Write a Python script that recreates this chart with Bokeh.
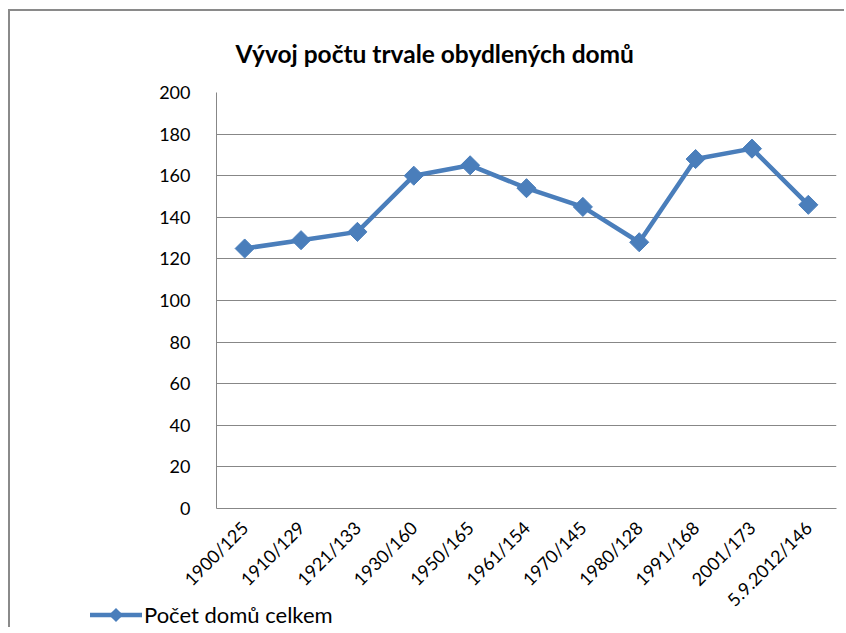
from bokeh.plotting import figure
from bokeh.models import Title, FixedTicker, Div
from bokeh.layouts import column
from bokeh.embed import file_html
from bokeh.resources import INLINE
import math

categories = ["1900/125", "1910/129", "1921/133", "1930/160", "1950/165", "1961/154",
              "1970/145", "1980/128", "1991/168", "2001/173", "5.9.2012/146"]
values = [125, 129, 133, 160, 165, 154, 145, 128, 168, 173, 146]
y_ticks = [0, 20, 40, 60, 80, 100, 120, 140, 160, 180, 200]
series_name = "Počet domů celkem"

FONT = "Lato"
BLUE = "#4A7EBB"
GRAY = "#878787"

p = figure(x_range=categories, y_range=(0, 200), width=834, height=614,
           output_backend="svg", toolbar_location=None,
           min_border_left=206, min_border_right=8, min_border_top=81, min_border_bottom=117)

p.outline_line_color = None
p.background_fill_color = "white"
p.border_fill_color = "white"

line = p.line(categories, values, line_color=BLUE, line_width=4.5)
pts = p.scatter(categories, values, marker="square", angle=math.pi / 4, size=13.5,
                fill_color=BLUE, line_color=BLUE)

p.xgrid.grid_line_color = None
p.ygrid.grid_line_color = GRAY
p.ygrid.grid_line_width = 1

p.yaxis.ticker = FixedTicker(ticks=y_ticks)
for ax in (p.xaxis, p.yaxis):
    ax.axis_line_color = GRAY
    ax.axis_line_width = 1
    ax.major_tick_line_color = None
    ax.minor_tick_line_color = None
    ax.major_label_text_font = FONT
    ax.major_label_text_font_size = "18px"
    ax.major_label_text_color = "black"
p.yaxis.major_label_standoff = 20
p.xaxis.major_label_standoff = 10
p.xaxis.major_label_orientation = math.pi / 4

title = Title(text="Vývoj počtu trvale obydlených domů", align="left", offset=19,
              text_font=FONT, text_font_size="24.5px", text_font_style="bold",
              text_color="black", standoff=50)
p.add_layout(title, "above")

# legend (series key) placed under the chart, left of the plot area
legend_html = (
    f'<div style="display:flex;align-items:center;font-family:{FONT};font-size:22px;'
    f'color:black;white-space:nowrap;line-height:24px;">'
    f'<svg width="52" height="20" style="flex:none">'
    f'<line x1="0" y1="10" x2="52" y2="10" stroke="{BLUE}" stroke-width="4.5"/>'
    f'<rect x="21" y="5" width="10" height="10" fill="{BLUE}" transform="rotate(45 26 10)"/>'
    f'</svg><span style="margin-left:2px">{series_name}</span></div>'
)
legend_div = Div(text=legend_html, width=300, height=24, margin=(-22, 0, 0, 80))

layout = column(p, legend_div, spacing=0)
layout.styles = {"margin-left": "8px", "margin-top": "9px",
                 "border-left": "2px solid #8a8a8a", "border-top": "2px solid #8a8a8a"}

open("out.html", "w").write(file_html(layout, INLINE))
